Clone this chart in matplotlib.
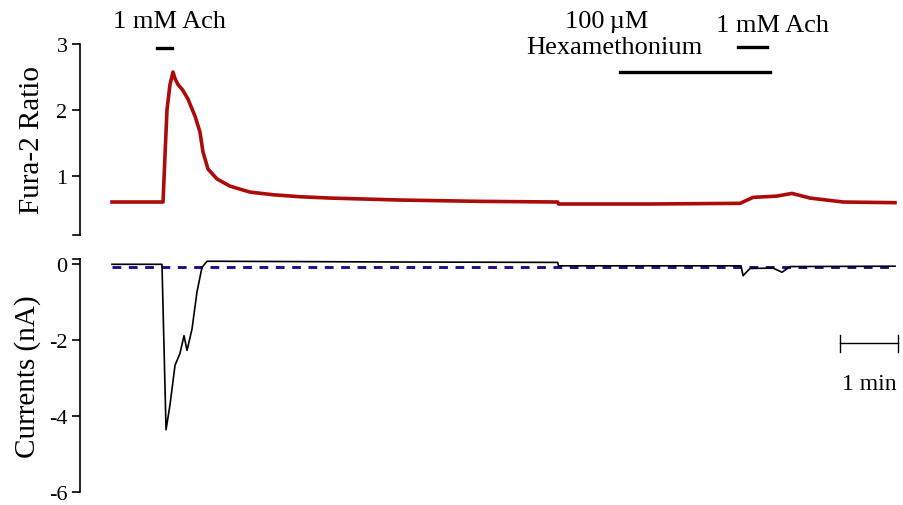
import matplotlib
matplotlib.use("Agg")
import matplotlib.pyplot as plt

plt.rcParams['font.family'] = ['Liberation Serif', 'DejaVu Serif']
plt.rcParams['axes.unicode_minus'] = False

# ---- data (time in seconds) ----
fura_t = [0, 52.8, 54.8, 56.9, 60.0, 63.1, 65.2, 68.3, 73.0, 78.6, 85.9, 91.0, 94.1,
          99.3, 108.6, 122.1, 142.8, 166.6, 194.5, 225.5, 297.9, 380.7, 461.0,
          461.9, 556.6, 649.7, 663.1, 687.9, 703.4, 722.1, 756.2, 810.0]
fura_v = [0.60, 0.60, 1.30, 2.00, 2.38, 2.57, 2.47, 2.38, 2.30, 2.16, 1.90, 1.66, 1.36,
          1.10, 0.95, 0.84, 0.75, 0.71, 0.68, 0.66, 0.63, 0.61, 0.60,
          0.57, 0.57, 0.58, 0.67, 0.69, 0.73, 0.66, 0.60, 0.59]

cur_t = [0, 51.7, 55.9, 60.0, 65.2, 70.3, 74.5, 77.6, 82.8, 87.9, 93.1, 98.3,
         108.0, 300.0, 461.0, 461.9, 650.7, 652.8, 660.0, 683.8, 693.1, 701.4, 810.0]
cur_v = [0.0, 0.0, -4.36, -3.70, -2.66, -2.35, -1.88, -2.27, -1.70, -0.73, -0.08, 0.08,
         0.08, 0.06, 0.05, -0.04, -0.04, -0.30, -0.11, -0.10, -0.21, -0.06, -0.05]

base_t = [0, 810.0]
base_v = [-0.08, -0.08]

fura_ticks = [1, 2, 3]
cur_ticks = [0, -2, -4, -6]

ach1_bar = (46.6, 62.1)
hex_bar = (525.5, 680.7)
ach2_bar = (647.6, 677.6)
scale_bar = (753.1, 813.1)

fig = plt.figure(figsize=(9.04, 5.06), dpi=100)
ax1 = fig.add_axes([0.0885, 0.5336, 0.9115, 0.3781])
ax2 = fig.add_axes([0.0885, 0.0257, 0.9115, 0.4605])

xlim = (-33.1, 819.3)
red = '#ad0a0a'

ax1.plot(fura_t, fura_v, color=red, lw=2.6, solid_joinstyle='round')
ax1.set_xlim(*xlim)
ax1.set_ylim(0.1, 3.0)
ax1.set_yticks(fura_ticks)
ax1.set_ylabel('Fura-2 Ratio', fontsize=21, labelpad=8)

ax2.plot(base_t, base_v, color='#14148c', lw=2.1, linestyle=(0, (3.0, 2.6)))
ax2.plot(cur_t, cur_v, color='black', lw=1.2)
ax2.set_xlim(*xlim)
ax2.set_ylim(-6, 0.14)
ax2.set_yticks(cur_ticks)
ax2.set_ylabel('Currents (nA)', fontsize=21, labelpad=6)

for ax in (ax1, ax2):
    for s in ('top', 'right', 'bottom'):
        ax.spines[s].set_visible(False)
    ax.spines['left'].set_linewidth(1.2)
    ax.set_xticks([])
    ax.tick_params(axis='y', length=6, width=1.2, labelsize=16, pad=3)
    ax.patch.set_alpha(0)

# bottom tick of top axis (at spine end)
ax1.plot([-33.1 - 7, -33.1], [0.1, 0.1], color='black', lw=1.2, clip_on=False)
ax2.plot([-33.1 - 7, -33.1], [0.14, 0.14], color='black', lw=1.2, clip_on=False)

# annotations
ax1.plot(ach1_bar, [2.93, 2.93], color='black', lw=2.4, clip_on=False)
ax1.text(59, 3.35, '1 mM Ach', fontsize=19, ha='center', va='center')
ax1.plot(hex_bar, [2.57, 2.57], color='black', lw=2.4, clip_on=False)
ax1.plot(ach2_bar, [2.95, 2.95], color='black', lw=2.4, clip_on=False)
ax1.text(512, 3.35, '100\u2009\u00b5M', fontsize=19, ha='center', va='center')
ax1.text(520, 2.95, 'Hexamethonium', fontsize=19, ha='center', va='center')
ax1.text(683, 3.28, '1 mM Ach', fontsize=19, ha='center', va='center')

# scale bar
ax2.plot(scale_bar, [-2.08, -2.08], color='black', lw=1.0, clip_on=False)
for xb in scale_bar:
    ax2.plot([xb, xb], [-1.87, -2.30], color='black', lw=1.0, clip_on=False)
ax2.text(sum(scale_bar) / 2, -3.15, '1 min', fontsize=17, ha='center', va='center')

fig.savefig('out.png', dpi=100)
